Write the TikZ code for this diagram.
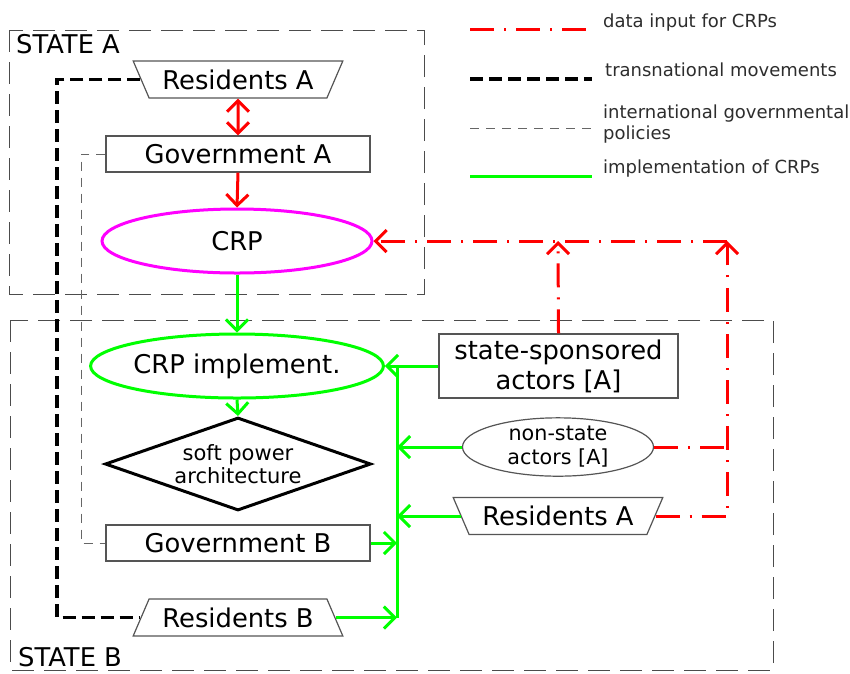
\documentclass[tikz,border=0pt]{standalone}
\usepackage{fontspec}
\setmainfont{DejaVu Sans}
\usetikzlibrary{shapes.geometric,arrows.meta}
\definecolor{crpred}{RGB}{255,0,0}
\definecolor{crpgreen}{RGB}{0,255,0}
\definecolor{crpmagenta}{RGB}{255,0,255}
\definecolor{boxgray}{RGB}{85,85,85}
\definecolor{leggray}{RGB}{45,45,45}
\newcommand{\mainsize}{\fontsize{25.8}{30}\selectfont}
\newcommand{\smallsize}{\fontsize{21}{23.5}\selectfont}
\newcommand{\legsize}{\fontsize{18}{21}\selectfont}

\tikzset{
  >={Straight Barb[length=11pt,width=22pt]},
  statebox/.style={draw=black!70, line width=1pt, dash pattern=on 22pt off 10pt},
  statelabel/.style={font=\mainsize, anchor=base west, inner sep=0pt},
  govbox/.style={draw=boxgray, line width=1.2pt, fill=white, minimum width=264pt, minimum height=36pt, inner sep=1pt, font=\mainsize},
  resbox/.style={trapezium, draw=boxgray, line width=1.2pt, fill=white, trapezium stretches=true, trapezium left angle=58, trapezium right angle=58, minimum width=210pt, minimum height=37pt, inner sep=1pt, font=\mainsize},
  crpell/.style={ellipse, line width=3pt, fill=white, minimum width=270pt, minimum height=64pt, inner sep=0pt, font=\mainsize},
  datain/.style={draw=crpred, line width=3pt, dash pattern=on 24pt off 10pt on 2pt off 10pt},
  redline/.style={draw=crpred, line width=3pt},
  transnat/.style={draw=black, line width=3.5pt, dash pattern=on 13pt off 6pt},
  intpol/.style={draw=black!60, line width=1pt, dash pattern=on 9pt off 7pt},
  impl/.style={draw=crpgreen, line width=3pt},
  legtext/.style={font=\legsize, text=leggray, inner sep=0pt, anchor=base west, align=left},
}

\begin{document}
\begin{tikzpicture}[x=1pt,y=-1pt]
  \useasboundingbox (0,0) rectangle (850,673);

  % states
  \draw[statebox] (9,30) rectangle (424,294);
  \node[statelabel] (stA) at (16,53) {STATE A};
  \draw[statebox] (10,320) rectangle (773,670);
  \node[statelabel] (stB) at (18,666) {STATE B};

  % state A
  \node[resbox, shape border rotate=180] (resA) at (238,79.5) {Residents A};
  \node[govbox] (govA) at (238,154) {Government A};
  \node[crpell, draw=crpmagenta] (crp) at (237,241) {CRP};

  % state B
  \node[crpell, draw=crpgreen] (crpI) at (237,366) {CRP implement.};
  \node[diamond, draw=black, line width=3pt, fill=white, minimum width=266pt, minimum height=93pt,
        inner sep=0pt, aspect=2.86, font=\smallsize, align=center] (spa) at (238,464) {soft power\\architecture};
  \node[govbox] (govB) at (238,543) {Government B};
  \node[resbox] (resB) at (238,617.5) {Residents B};

  % actors of A in B
  \node[govbox, minimum width=239pt, minimum height=64pt, align=center] (ssA) at (558.5,366) {state-sponsored\\actors [A]};
  \node[ellipse, draw=boxgray, line width=1.2pt, fill=white, minimum width=191pt, minimum height=58pt,
        inner sep=0pt, align=center, font=\fontsize{20.7}{24}\selectfont] (nsA) at (558,447) {non-state\\actors [A]};
  \node[resbox, shape border rotate=180] (resA2) at (558,516) {Residents A};

  % red
  \draw[redline,<->] (resA.south) -- (govA.north);
  \draw[redline,->] (govA.south) -- (crp.north);
  \coordinate (dA) at (558,241);
  \coordinate (dB) at (727,241);
  \draw[datain,->] (ssA.north) -- (dA);
  \draw[datain,->] (resA2.east) -| (dB);
  \draw[datain] (nsA.east) -- (nsA.east -| dB);
  \draw[datain,->] (dB) -- (crp.east);

  % green
  \draw[impl,->] (crp.south) -- (crpI.north);
  \draw[impl,->] (crpI.south) -- (spa.north);
  \coordinate (bus) at (397,366);
  \draw[impl,->] (ssA.west) -- (crpI.east);
  \draw[impl] (bus) -- (resB.east -| bus);
  \draw[impl,->] (nsA.west) -- (nsA.west -| bus);
  \draw[impl,->] (resA2.west) -- (resA2.west -| bus);
  \draw[impl,->] (govB.east) -- (govB.east -| bus);
  \draw[impl,->] (resB.east) -- (resB.east -| bus);

  % transnational
  \coordinate (tn) at (57,0);
  \draw[transnat] (resA.west) -- (resA.west -| tn) -- (resB.west -| tn) -- (resB.west);
  % policies
  \coordinate (ip) at (81,0);
  \draw[intpol] (govA.west) -- (govA.west -| ip) -- (govB.west -| ip) -- (govB.west);

  % legend
  \draw[datain] (470,29) -- (592,29);
  \node[legtext] (legA) at (603,27) {data input for CRPs};
  \draw[transnat] (470,79) -- (592,79);
  \node[legtext] (legB) at (605,76) {transnational movements};
  \draw[intpol] (470,128) -- (592,128);
  \node[legtext, anchor=north west] (legC) at (603,105) {international governmental\\policies};
  \draw[impl] (470,176) -- (592,176);
  \node[legtext] (legD) at (603,173) {implementation of CRPs};
\end{tikzpicture}
\end{document}
